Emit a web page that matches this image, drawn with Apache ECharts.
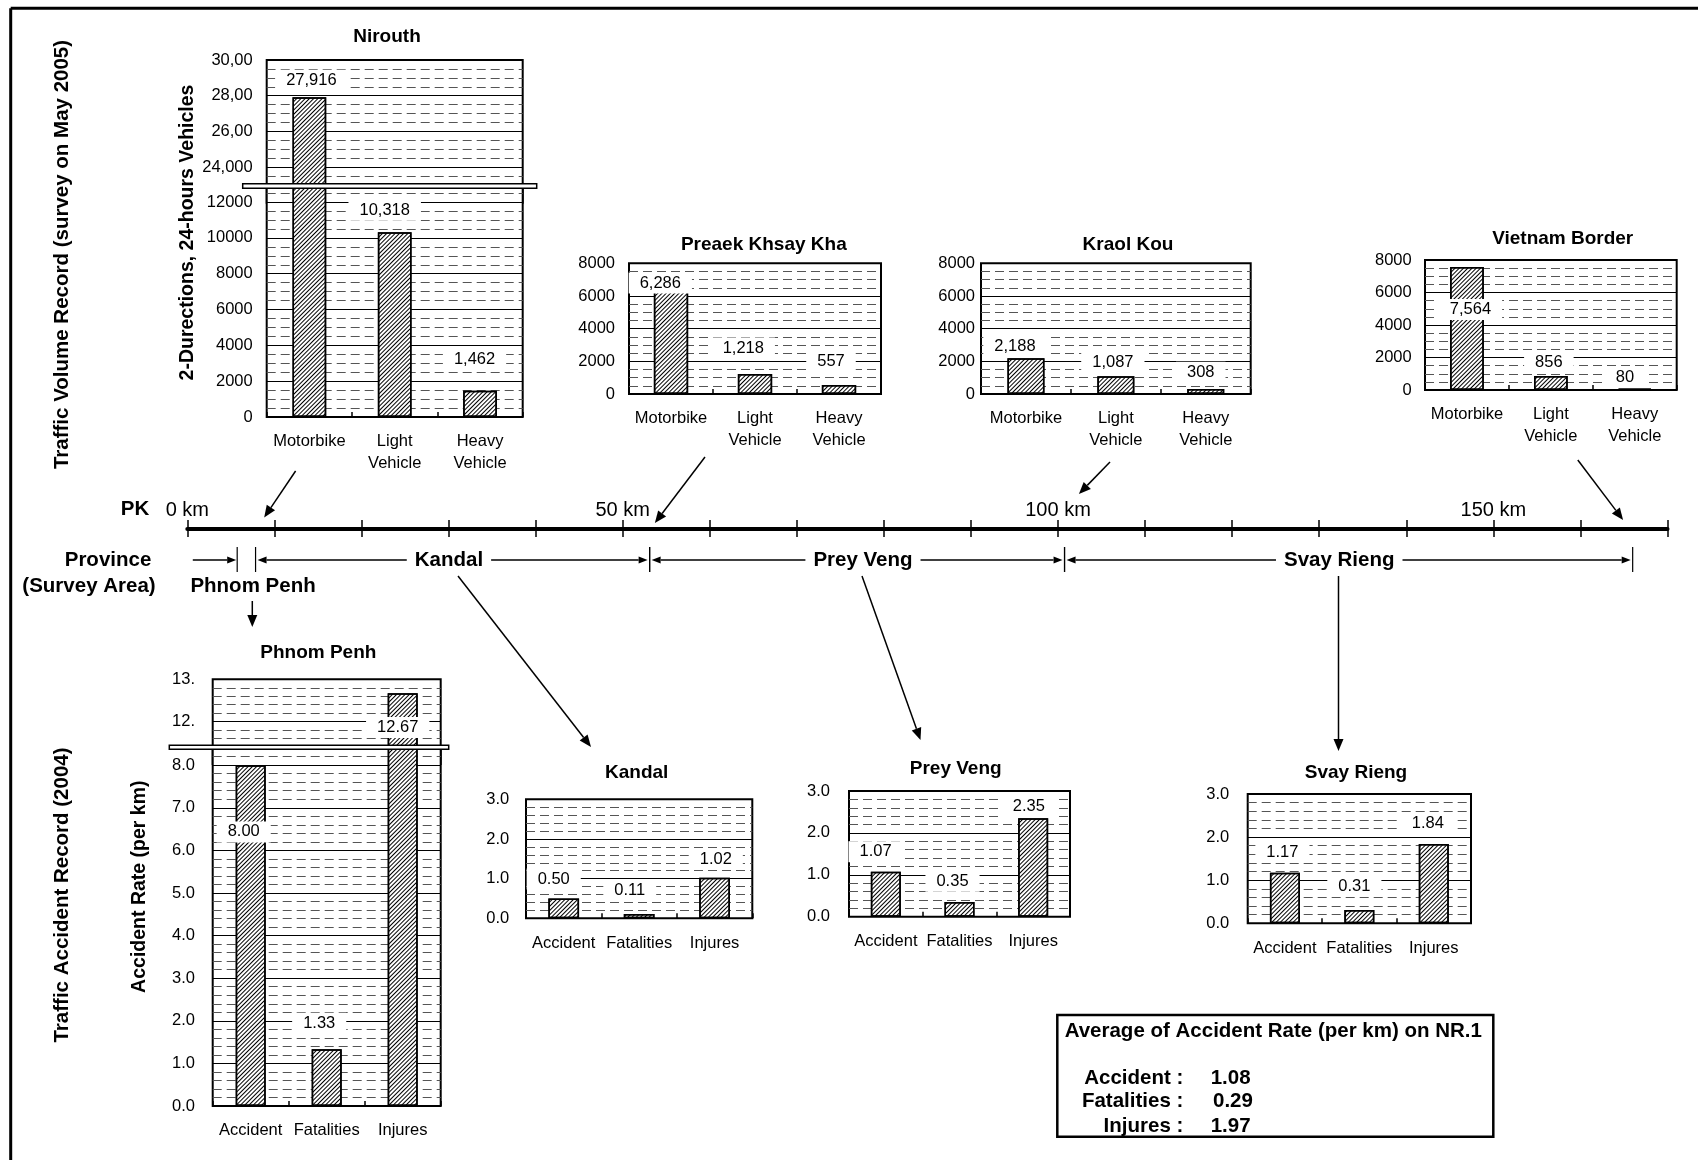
<!DOCTYPE html>
<html>
<head>
<meta charset="utf-8">
<title>NR.1 Traffic Volume and Accident Record</title>
<script src="https://cdn.jsdelivr.net/npm/echarts@6/dist/echarts.min.js"></script>
<style>
  html, body { margin: 0; padding: 0; background: #fff; }
  #chart { width: 1698px; height: 1160px; }
</style>
</head>
<body>
<div id="chart"></div>
<script>
// ---- Data -------------------------------------------------------------
const volCategories = ['Motorbike', 'Light\nVehicle', 'Heavy\nVehicle'];
const accCategories = ['Accident', 'Fatalities', 'Injures'];

// 2-direction, 24-hour traffic counts (May 2005)
const nirouthVol = [27916, 10318, 1462];
const preaekVol = [6286, 1218, 557];
const kraolVol = [2188, 1087, 308];
const vietnamVol = [7564, 856, 80];

// Accident rate per km (2004)
const phnomPenhAcc = [8.00, 1.33, 12.67];
const kandalAcc = [0.50, 0.11, 1.02];
const preyVengAcc = [1.07, 0.35, 2.35];
const svayRiengAcc = [1.17, 0.31, 1.84];

const averageLabels = ['Accident :', 'Fatalities :', 'Injures :'];
const averageRate = [1.08, 0.29, 1.97];

// Tick labels of the broken upper axis segments
const nirouthUpperTicks = [24000, 26000, 28000, 30000];
const nirouthUpperTickText = ['24,000', '26,00', '28,00', '30,00'];
const phnomPenhUpperTicks = [12, 13];
const phnomPenhUpperTickText = ['12.', '13.'];

// Kilometre post line
const pkLabelKm = [0, 50, 100, 150];
const stationNames = ['Nirouth', 'Preaek Khsay Kha', 'Kraol Kou', 'Vietnam Border'];
const stationKm = [8.83, 53.7, 102.4, 164.9];

// Province sections along NR.1
const provinceNames = ['Phnom Penh', 'Kandal', 'Prey Veng', 'Svay Rieng'];
const provinceStartKm = [0.63, 7.84, 53.1, 100.75];
const provinceEndKm = [5.73, 53.1, 100.75, 166.0];
const provinceLabelKm = [7.55, 30.05, 77.6, 132.3];

// ---- Styles -----------------------------------------------------------
const FONT = '"Liberation Sans", Arial, Helvetica, sans-serif';
const HATCH = {
  symbol: 'rect', symbolSize: 1, color: '#000',
  dashArrayX: [1, 0], dashArrayY: [1, 1.7], rotation: -Math.PI / 4
};
const fmtVol = v => Number(v).toLocaleString('en-US');
const fmtAcc = v => Number(v).toFixed(2);
const fmtTick1 = v => (Math.abs(v - Math.round(v)) < 1e-6 ? Number(v).toFixed(1) : '');
const fmtTickVol = v => (v % 2000 === 0 ? String(v) : '');
const mapTick = (ticks, text) => v => {
  const i = ticks.findIndex(t => Math.abs(t - v) < 1e-6);
  return i >= 0 ? text[i] : '';
};

const option = {
  animation: false,
  backgroundColor: '#fff',
  textStyle: { fontFamily: FONT },
  grid: [], xAxis: [], yAxis: [], series: []
};

// One bar panel = grid + category x axis + value y axis + bar series
function addPanel(p) {
  const idx = option.grid.length;
  const z = p.z || 0;
  option.grid.push({
    left: p.left, top: p.top, width: p.width, height: p.height,
    show: true, backgroundColor: p.cover ? '#fff' : 'transparent',
    borderColor: '#000', borderWidth: 2, z: z,
    containLabel: false, outerBoundsMode: 'none'
  });
  option.xAxis.push({
    gridIndex: idx, type: 'category', data: p.categories, show: p.showX !== false, z: z + 1,
    axisLine: { show: false },
    axisTick: { show: true, inside: true, length: 5, lineStyle: { color: '#000', width: 1.5 } },
    axisLabel: { interval: 0, margin: 14, fontSize: 16.5, lineHeight: 21.5, color: '#000', fontFamily: FONT },
    splitLine: { show: false }
  });
  option.yAxis.push({
    gridIndex: idx, type: 'value', min: p.min, max: p.max, interval: p.interval, z: z + 1,
    axisLine: { show: false }, axisTick: { show: false },
    axisLabel: { formatter: p.tickFmt, margin: p.labelMargin, fontSize: 16.5, color: '#000', fontFamily: FONT },
    splitLine: { show: true, lineStyle: { color: '#000', width: 1 } },
    minorTick: { show: false, splitNumber: p.minor },
    minorSplitLine: { show: true, lineStyle: { color: '#555', width: 1, type: [9, 5] } }
  });
  const inRange = v => v >= p.min;
  const labelled = v => (p.labelIf ? p.labelIf(v) : true);
  option.series.push({
    type: 'bar', xAxisIndex: idx, yAxisIndex: idx, z: z + 2, clip: true,
    barWidth: p.barWidth, silent: true,
    data: p.values.map((v, i) => inRange(v) ? {
      value: v,
      label: { show: labelled(v), offset: p.labelOffsets[i] }
    } : '-'),
    itemStyle: { color: '#fff', borderColor: '#000', borderWidth: 1.5, decal: HATCH },
    label: {
      show: true, position: 'top', distance: 0, verticalAlign: 'middle',
      formatter: q => p.labelFmt(q.value),
      backgroundColor: '#fff', padding: [2, 11],
      fontSize: 16.5, color: '#000', fontFamily: FONT
    },
    emphasis: { disabled: true }
  });
  return idx;
}

// Nirouth (broken axis: upper 22,000-30,000 / lower 0-12,900)
addPanel({ left: 266.7, top: 60, width: 256, height: 142.7, min: 22000, max: 30000, interval: 2000, minor: 4,
  categories: volCategories, values: nirouthVol, showX: false, barWidth: 33.7, labelMargin: 14,
  tickFmt: mapTick(nirouthUpperTicks, nirouthUpperTickText), labelFmt: fmtVol,
  labelOffsets: [[2, -17], [0, 0], [0, 0]] });
addPanel({ left: 266.7, top: 186, width: 256, height: 231, min: 0, max: 12900, interval: 2000, minor: 4, cover: true, z: 10,
  categories: volCategories, values: nirouthVol, barWidth: 33.7, labelMargin: 14,
  tickFmt: fmtTickVol, labelFmt: fmtVol, labelIf: v => v <= 12900,
  labelOffsets: [[0, 0], [-10, -22], [-5.5, -31.4]] });

// Preaek Khsay Kha, Kraol Kou, Vietnam Border
addPanel({ left: 629, top: 263.3, width: 252, height: 130.7, min: 0, max: 8000, interval: 2000, minor: 4,
  categories: volCategories, values: preaekVol, barWidth: 34.3, labelMargin: 14,
  tickFmt: fmtTickVol, labelFmt: fmtVol,
  labelOffsets: [[-10.7, -8.3], [-11.7, -26], [-8, -23.3]] });
addPanel({ left: 981, top: 263.3, width: 269.7, height: 130.7, min: 0, max: 8000, interval: 2000, minor: 4,
  categories: volCategories, values: kraolVol, barWidth: 37, labelMargin: 6,
  tickFmt: fmtTickVol, labelFmt: fmtVol,
  labelOffsets: [[-11, -12.3], [-3, -14], [-5, -16.6]] });
addPanel({ left: 1425, top: 260, width: 251.7, height: 130, min: 0, max: 8000, interval: 2000, minor: 4,
  categories: volCategories, values: vietnamVol, barWidth: 33.7, labelMargin: 13.3,
  tickFmt: fmtTickVol, labelFmt: fmtVol,
  labelOffsets: [[3.5, 42.4], [-2, -13.6], [-9.7, -11.4]] });

// Phnom Penh (broken axis: upper 11-13 / lower 0-8.4)
addPanel({ left: 212.7, top: 679.3, width: 228, height: 84.6, min: 11, max: 13, interval: 1, minor: 5,
  categories: accCategories, values: phnomPenhAcc, showX: false, barWidth: 30, labelMargin: 17.7,
  tickFmt: mapTick(phnomPenhUpperTicks, phnomPenhUpperTickText), labelFmt: fmtAcc,
  labelOffsets: [[0, 0], [0, 0], [-5, 34.3]] });
addPanel({ left: 212.7, top: 747.5, width: 228, height: 358.5, min: 0, max: 8.415, interval: 1, minor: 5, cover: true, z: 10,
  categories: accCategories, values: phnomPenhAcc, barWidth: 30, labelMargin: 17.7,
  tickFmt: fmtTick1, labelFmt: fmtAcc, labelIf: v => v <= 8.415,
  labelOffsets: [[-7, 66.7], [-7.5, -26], [0, 0]] });

// Kandal, Prey Veng, Svay Rieng
addPanel({ left: 526, top: 799.3, width: 226.3, height: 119, min: 0, max: 3, interval: 1, minor: 5,
  categories: accCategories, values: kandalAcc, barWidth: 30.7, labelMargin: 16.7,
  tickFmt: fmtTick1, labelFmt: fmtAcc,
  labelOffsets: [[-10, -19.4], [-9.4, -23.3], [1.2, -18.3]] });
addPanel({ left: 849, top: 791, width: 221, height: 125.7, min: 0, max: 3, interval: 1, minor: 5,
  categories: accCategories, values: preyVengAcc, barWidth: 30, labelMargin: 19,
  tickFmt: fmtTick1, labelFmt: fmtAcc,
  labelOffsets: [[-10.3, -20], [-7, -20.7], [-4.4, -11.6]] });
addPanel({ left: 1247.7, top: 794, width: 223.3, height: 129.3, min: 0, max: 3, interval: 1, minor: 5,
  categories: accCategories, values: svayRiengAcc, barWidth: 30, labelMargin: 18.4,
  tickFmt: fmtTick1, labelFmt: fmtAcc,
  labelOffsets: [[-2.5, -20.4], [-5, -23.4], [-6, -21]] });

// PK kilometre axis: thick line through y = 0, split lines act as cross ticks
const PK = option.grid.length;
option.grid.push({ left: 187.3, top: 520, width: 1480.2, height: 17, show: false,
  containLabel: false, outerBoundsMode: 'none' });
option.xAxis.push({
  gridIndex: PK, type: 'value', min: 0, max: 170, interval: 10, position: 'top',
  axisLine: { show: true, onZero: true, lineStyle: { color: '#000', width: 4 } },
  axisTick: { show: false },
  axisLabel: { formatter: v => (pkLabelKm.includes(v) ? v + ' km' : ''), margin: 0,
    fontSize: 20, color: '#000', fontFamily: FONT, showMinLabel: true },
  splitLine: { show: true, lineStyle: { color: '#000', width: 1.5 } }
});
option.yAxis.push({ gridIndex: PK, type: 'value', min: -1, max: 1, show: false,
  splitLine: { show: false } });

const chart = echarts.init(document.getElementById('chart'), null, { renderer: 'canvas' });
chart.setOption(option);

// ---- Annotations ------------------------------------------------------
function text(x, y, str, size, bold, extra, rot) {
  return {
    type: 'text', x: x, y: y, z: 60, rotation: rot || 0, silent: true,
    style: Object.assign({ text: str, fontSize: size, fontWeight: bold ? 'bold' : 'normal',
      fontFamily: FONT, fill: '#000', align: 'center', verticalAlign: 'middle' }, extra || {})
  };
}
function line(x1, y1, x2, y2, w) {
  return { type: 'line', z: 50, silent: true, shape: { x1, y1, x2, y2 },
    style: { stroke: '#000', lineWidth: w || 1.5 } };
}
function arrow(x1, y1, x2, y2, len, half, w) {
  const a = Math.atan2(y2 - y1, x2 - x1);
  const bx = x2 - len * Math.cos(a), by = y2 - len * Math.sin(a);
  const px = -Math.sin(a) * half, py = Math.cos(a) * half;
  return [
    line(x1, y1, bx, by, w),
    { type: 'polygon', z: 50, silent: true,
      shape: { points: [[x2, y2], [bx + px, by + py], [bx - px, by - py]] }, style: { fill: '#000' } }
  ];
}

const kx = km => chart.convertToPixel({ xAxisIndex: PK }, km);
const els = [];

// Frame
els.push(line(10.7, 8.3, 1698, 8.3, 3), line(10.7, 8.3, 10.7, 1160, 3));

// Axis breaks
els.push({ type: 'rect', z: 100, silent: true, shape: { x: 242.7, y: 183.7, width: 294, height: 4.6 },
  style: { fill: '#fff', stroke: '#000', lineWidth: 1.5 } });
els.push({ type: 'rect', z: 100, silent: true, shape: { x: 169.3, y: 745.3, width: 279.4, height: 4 },
  style: { fill: '#fff', stroke: '#000', lineWidth: 1.5 } });

// Chart titles
const titlePos = [[387, 37], [763.8, 245], [1128, 245], [1562.7, 239]];
stationNames.forEach((n, i) => els.push(text(titlePos[i][0], titlePos[i][1], n, 19, true)));
const accTitlePos = [[318.3, 652.7], [636.7, 772.3], [955.7, 768.3], [1356, 772.7]];
provinceNames.forEach((n, i) => els.push(text(accTitlePos[i][0], accTitlePos[i][1], n, 19, true)));

// Axis titles and section titles
els.push(text(187.5, 232.5, '2-Durections, 24-hours Vehicles', 19.5, true, null, Math.PI / 2));
els.push(text(140, 886.7, 'Accident Rate (per km)', 19.5, true, null, Math.PI / 2));
els.push(text(62, 254.5, 'Traffic Volume Record (survey on May 2005)', 20.5, true, null, Math.PI / 2));
els.push(text(62, 895, 'Traffic Accident Record (2004)', 20.5, true, null, Math.PI / 2));

// PK row labels
els.push(text(135, 509, 'PK', 20.5, true));
els.push(text(108, 560, 'Province', 20.5, true));
els.push(text(89, 586, '(Survey Area)', 20.5, true));

// Province sections
const rowY = 560;
provinceNames.forEach((n, i) => {
  const xs = kx(provinceStartKm[i]), xe = kx(provinceEndKm[i]), xl = kx(provinceLabelKm[i]);
  if (i === 0) {
    els.push(...arrow(xs, rowY, xe - 1, rowY, 9, 3.5, 1.5));
    els.push(text(xl, 586, n, 20.5, true));
  } else {
    els.push(...arrow(xl, rowY, xs + 2, rowY, 9, 3.5, 1.5));
    els.push(...arrow(xl, rowY, xe - 2, rowY, 9, 3.5, 1.5));
    els.push(text(xl, rowY, n, 20.5, true, { backgroundColor: '#fff', padding: [0, 8] }));
    els.push(line(xs, 547, xs, 572, 1.2));
  }
  els.push(line(xe, 547, xe, 572, 1.2));
});

// Pointers from the traffic count stations to the PK line
const pkY = chart.convertToPixel({ yAxisIndex: PK }, 0);
const stationTail = [[295.6, 471], [705, 457], [1110, 462], [1577.8, 460]];
const stationHeadY = [pkY - 11, pkY - 5.5, 494, pkY - 8.5];
stationKm.forEach((km, i) => {
  els.push(...arrow(stationTail[i][0], stationTail[i][1], kx(km), stationHeadY[i], 12, 5, 1.5));
});

// Pointers from the province names to the accident charts
const provTail = [[252.3, 601], [458, 576], [862, 576], [1338.5, 576]];
const provHead = [[252.3, 627], [591, 747], [920.5, 740], [1338.5, 751]];
provTail.forEach((t, i) => els.push(...arrow(t[0], t[1], provHead[i][0], provHead[i][1], 12, 5, 1.5)));

// Average accident rate box
els.push({ type: 'rect', z: 50, silent: true, shape: { x: 1057.3, y: 1015, width: 436, height: 121.7 },
  style: { fill: 'none', stroke: '#000', lineWidth: 2.5 } });
els.push(text(1273.3, 1031.7, 'Average of Accident Rate (per km) on NR.1', 20.5, true));
const rowYs = [1078.3, 1101.7, 1126];
const valX = [1210.7, 1213, 1210.7];
averageLabels.forEach((lab, i) => {
  els.push(text(1183.3, rowYs[i], lab, 20.5, true, { align: 'right' }));
  els.push(text(valX[i], rowYs[i], averageRate[i].toFixed(2), 20.5, true, { align: 'left' }));
});

chart.setOption({ graphic: { elements: els } });
</script>
</body>
</html>
